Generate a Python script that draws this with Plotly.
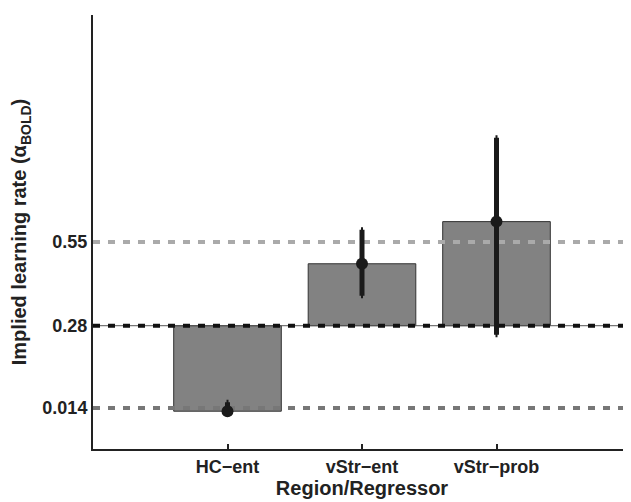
import plotly.graph_objects as go

categories = ["HC\u2212ent", "vStr\u2212ent", "vStr\u2212prob"]
cat_pos = [1, 2, 3]
bar_base = 0.28
values = [0.004, 0.48, 0.616]
err_hi = [0.033, 0.59, 0.887]
err_lo = [0.000, 0.377, 0.251]
ref_levels = [0.55, 0.28, 0.014]
ref_colors = ["#aaaaaa", "#111111", "#777777"]
tick_vals = [0.014, 0.28, 0.55]
tick_text = ["0.014", "0.28", "0.55"]

fig = go.Figure()
fig.add_trace(go.Bar(
    x=cat_pos, y=[v - bar_base for v in values], base=bar_base, width=0.8,
    marker=dict(color="#828282", line=dict(color="#333333", width=1)),
    showlegend=False))

# thin solid line under 0.28 dashes
fig.add_trace(go.Scatter(x=[0, 4], y=[bar_base, bar_base], mode="lines",
                         line=dict(color="#555555", width=1), showlegend=False))
for lvl, col in zip(ref_levels, ref_colors):
    fig.add_trace(go.Scatter(x=[0, 4], y=[lvl, lvl], mode="lines",
                             line=dict(color=col, width=4, dash="7px,8px"),
                             showlegend=False))

fig.add_trace(go.Scatter(
    x=cat_pos, y=values, mode="markers",
    marker=dict(color="#1a1a1a", size=12),
    error_y=dict(type="data", symmetric=False,
                 array=[h - v for h, v in zip(err_hi, values)],
                 arrayminus=[v - l for v, l in zip(values, err_lo)],
                 color="#1a1a1a", thickness=5, width=1),
    showlegend=False))

font = "Liberation Sans, Arial, sans-serif"
fig.update_layout(
    width=623, height=494,
    margin=dict(l=85, r=0, t=7, b=53),
    plot_bgcolor="white", paper_bgcolor="white",
    font=dict(family=font, size=18, color="#222222"),
    xaxis=dict(range=[0, 4], tickvals=cat_pos, ticktext=["<b>%s</b>" % c for c in categories],
               ticks="inside", ticklen=5, tickwidth=2, tickcolor="#222222",
               showline=True, linecolor="#222222", linewidth=2, showgrid=False,
               zeroline=False, mirror=False, ticklabelstandoff=0,
               title=dict(text="<b>Region/Regressor</b>", standoff=0,
                          font=dict(size=20))),
    yaxis=dict(range=[-0.118, 1.283], tickvals=tick_vals,
               ticktext=["<b>%s</b>" % t for t in tick_text],
               ticks="", showline=True, linecolor="#222222", linewidth=2,
               showgrid=False, zeroline=False,
               title=dict(text="<b>Implied learning rate (\u03b1<sub>BOLD</sub>)</b>",
                          standoff=10, font=dict(size=20))),
)
fig.write_html("out.html")
